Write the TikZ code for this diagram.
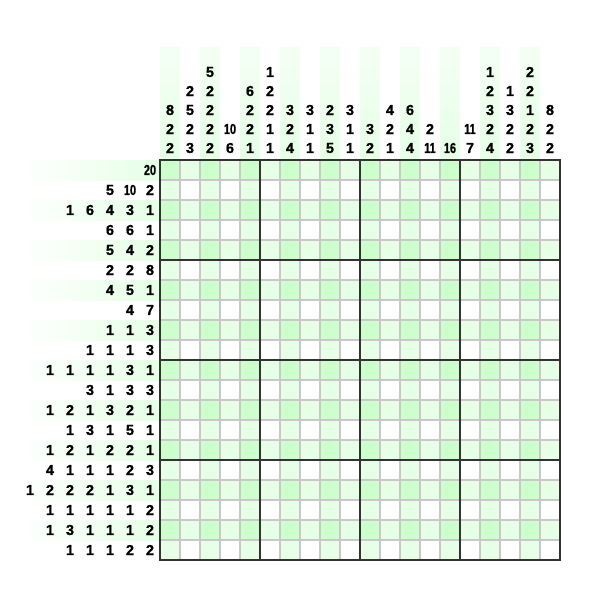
\documentclass[tikz,border=0pt]{standalone}
\usepackage{fontspec}
\usepackage{graphicx}
\setmainfont{Liberation Sans}
\newfontfamily\cluefont{Liberation Sans}[BoldFeatures={FakeBold=0.8}]
\definecolor{cdark}{HTML}{CCFFCC}
\definecolor{clight}{HTML}{E6FFE6}
\definecolor{cpale}{HTML}{F4FFF4}
\definecolor{cthin}{HTML}{C8C8C8}
\definecolor{cthick}{HTML}{333333}
\newcommand{\cluenum}[1]{\ifnum#1>9 \scalebox{0.75}[1]{#1}\else #1\fi}
\begin{document}
\begin{tikzpicture}[x=1pt,y=-1pt,
  cluetxt/.style={font=\cluefont\fontsize{14.5}{14.5}\selectfont\bfseries, inner sep=0pt, anchor=center},
  thinline/.style={draw=cthin, line width=1.5pt},
  thickline/.style={draw=cthick, line width=2pt}]
\useasboundingbox (0,0) rectangle (600,600);
% header bands
\foreach \j in {1,3,...,19} {
  \shade[top color=cpale, bottom color=clight] ({140+20*\j},47) rectangle ({160+20*\j},160);
}
\foreach \i in {1,3,...,19} {
  \shade[left color=white, right color=clight] (20,{140+20*\i}) rectangle (160,{160+20*\i});
}
% cells
\fill[white] (160,160) rectangle (560,560);
\foreach \j in {1,3,...,19} {
  \fill[clight] ({140+20*\j},160) rectangle ({160+20*\j},560);
  \fill[clight] (160,{140+20*\j}) rectangle (560,{160+20*\j});
}
\foreach \i in {1,3,...,19} {
  \foreach \j in {1,3,...,19} {
    \fill[cdark] ({140+20*\j},{140+20*\i}) rectangle ({160+20*\j},{160+20*\i});
  }
}
% grid lines
\foreach \k in {1,...,19} {
  \draw[thinline] ({160+20*\k},160) -- ({160+20*\k},560);
  \draw[thinline] (160,{160+20*\k}) -- (560,{160+20*\k});
}
\foreach \k in {5,10,15} {
  \draw[thickline] ({160+20*\k},160) -- ({160+20*\k},560);
  \draw[thickline] (160,{160+20*\k}) -- (560,{160+20*\k});
}
\draw[thickline] (160,160) rectangle (560,560);
% column clues (listed bottom to top)
\foreach \j/\lst in {
  1/{2,2,8}, 2/{3,2,5,2}, 3/{2,2,2,2,5}, 4/{6,10}, 5/{1,2,2,6},
  6/{1,1,2,2,1}, 7/{4,2,3}, 8/{1,1,3}, 9/{5,3,2}, 10/{1,1,3},
  11/{2,3}, 12/{1,2,4}, 13/{4,4,6}, 14/{11,2}, 15/{16},
  16/{7,11}, 17/{4,2,3,2,1}, 18/{2,2,3,1}, 19/{3,2,1,2,2}, 20/{2,2,8}} {
  \foreach \v [count=\k] in \lst {
    \node[cluetxt] (cc-\j-\k) at ({150+20*\j},{148-19*(\k-1)}) {\cluenum{\v}};
  }
}
% row clues (listed right to left)
\foreach \i/\lst in {
  1/{20}, 2/{2,10,5}, 3/{1,3,4,6,1}, 4/{1,6,6}, 5/{2,4,5},
  6/{8,2,2}, 7/{1,5,4}, 8/{7,4}, 9/{3,1,1}, 10/{3,1,1,1},
  11/{1,3,1,1,1,1}, 12/{3,3,1,3}, 13/{1,2,3,1,2,1}, 14/{1,5,1,3,1}, 15/{1,2,2,1,2,1},
  16/{3,2,1,1,1,4}, 17/{1,3,1,2,2,2,1}, 18/{2,1,1,1,1,1}, 19/{2,1,1,1,3,1}, 20/{2,2,1,1,1}} {
  \foreach \v [count=\k] in \lst {
    \node[cluetxt] (rc-\i-\k) at ({150-20*(\k-1)},{150+20*\i}) {\cluenum{\v}};
  }
}
\end{tikzpicture}
\end{document}
